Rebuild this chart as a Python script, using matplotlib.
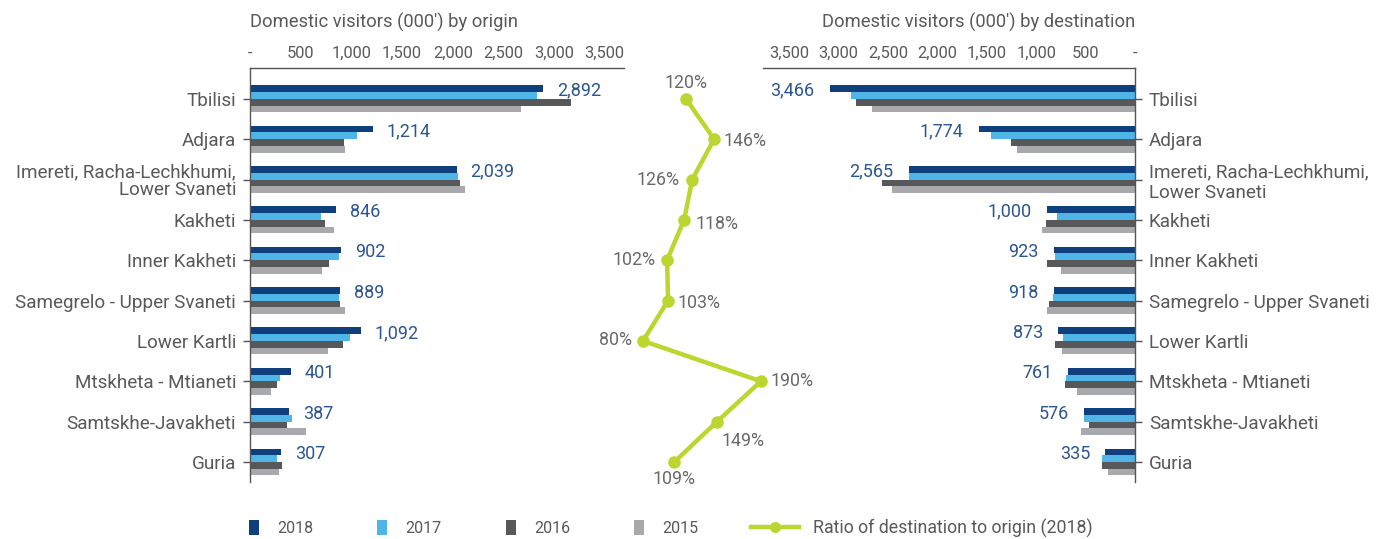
import matplotlib
matplotlib.use("Agg")
import matplotlib.pyplot as plt
from matplotlib.patches import Patch
from matplotlib.lines import Line2D
from matplotlib.ticker import FuncFormatter

plt.rcParams["font.family"] = ["Roboto", "DejaVu Sans"]

# ---- data -----------------------------------------------------------------
regions = [
    "Tbilisi",
    "Adjara",
    "Imereti, Racha-Lechkhumi,\nLower Svaneti",
    "Kakheti",
    "Inner Kakheti",
    "Samegrelo - Upper Svaneti",
    "Lower Kartli",
    "Mtskheta - Mtianeti",
    "Samtskhe-Javakheti",
    "Guria",
]
years = ["2018", "2017", "2016", "2015"]

# domestic visitors by region of origin (000')
origin_2018 = [2892, 1214, 2039, 846, 902, 889, 1092, 401, 387, 307]
origin_2017 = [2833, 1056, 2049, 698, 882, 879, 983, 292, 417, 268]
origin_2016 = [3171, 928, 2069, 738, 783, 889, 913, 262, 367, 317]
origin_2015 = [2678, 938, 2118, 826, 714, 938, 774, 203, 555, 287]

# domestic visitors by region of destination (000')
dest_2018 = [3466, 1774, 2565, 1000, 923, 918, 873, 761, 576, 335]
dest_2017 = [3221, 1638, 2570, 887, 912, 929, 816, 784, 576, 380]
dest_2016 = [3164, 1411, 2871, 1011, 1002, 975, 907, 795, 519, 380]
dest_2015 = [2986, 1343, 2758, 1057, 844, 997, 828, 659, 610, 312]

axis_ticks = [0, 500, 1000, 1500, 2000, 2500, 3000, 3500]

# ---- style ----------------------------------------------------------------
year_colors = ["#0f3f7c", "#4fb4e6", "#58585a", "#a7a9ac"]
ratio_color = "#bdd52f"
value_color = "#2b5692"
text_color = "#595959"
ratio_text_color = "#6a6a6a"
spine_color = "#555555"

W, H = 1389, 539
fig = plt.figure(figsize=(W / 100, H / 100), dpi=100)


def frac_box(x0, y_top, x1, y_bot):
    return [x0 / W, 1 - y_bot / H, (x1 - x0) / W, (y_bot - y_top) / H]


ax_l = fig.add_axes(frac_box(250, 68, 624, 482))
ax_r = fig.add_axes(frac_box(763, 68, 1135, 482))
ax_m = fig.add_axes(frac_box(600, 68, 800, 482))

n = len(regions)
pos = list(range(n))
bar_h = 0.167
offsets = [-1.5 * bar_h, -0.5 * bar_h, 0.5 * bar_h, 1.5 * bar_h]

origin_series = [origin_2018, origin_2017, origin_2016, origin_2015]
dest_series = [dest_2018, dest_2017, dest_2016, dest_2015]


def thousands(v, _=None):
    return "-" if v == 0 else f"{int(round(v)):,}"


for ax, series in ((ax_l, origin_series), (ax_r, dest_series)):
    for vals, off, col in zip(series, offsets, year_colors):
        ax.barh([p + off for p in pos], vals, height=bar_h, color=col,
                edgecolor="none", zorder=2)
    ax.set_ylim(n - 0.504, -0.763)
    ax.set_yticks(pos)
    ax.set_yticklabels(regions, fontsize=13.6, color=text_color)
    for lab in ax.get_yticklabels():
        lab.set_linespacing(0.95)
    ax.tick_params(axis="y", length=5, width=1, color=spine_color, pad=5)
    for s in ax.spines.values():
        s.set_color(spine_color)
        s.set_linewidth(1.0)
    ax.spines["bottom"].set_visible(False)
    ax.set_facecolor("none")

# origin panel
ax_l.set_xlim(0, 3690)
ax_l.spines["right"].set_visible(False)
ax_l.xaxis.tick_top()
ax_l.set_xticks(axis_ticks)
ax_l.xaxis.set_major_formatter(FuncFormatter(thousands))
ax_l.tick_params(axis="x", length=0, pad=5, labelsize=11.8, labelcolor=text_color)
for y, v in zip(pos, origin_2018):
    ax_l.annotate(f"{v:,}", (v, y + offsets[0]), xytext=(10, -1.5),
                  textcoords="offset points", ha="left", va="center",
                  fontsize=13, color=value_color)

# destination panel (mirrored)
ax_r.set_xlim(4222, 0)
ax_r.spines["left"].set_visible(False)
ax_r.yaxis.tick_right()
ax_r.set_xticks([])
dest_scale = 1.122
sec = ax_r.secondary_xaxis("top", functions=(lambda x: x / dest_scale,
                                             lambda x: x * dest_scale))
sec.set_xticks(axis_ticks)
sec.xaxis.set_major_formatter(FuncFormatter(thousands))
sec.tick_params(axis="x", length=0, pad=5, labelsize=11.8, labelcolor=text_color)
sec.spines["top"].set_visible(False)
for y, v in zip(pos, dest_2018):
    ax_r.annotate(f"{v:,}", (v, y + offsets[0]), xytext=(-11, -1.5),
                  textcoords="offset points", ha="right", va="center",
                  fontsize=13, color=value_color)

# ratio of destination to origin, 2018
ratio = [d / o * 100 for d, o in zip(dest_2018, origin_2018)]
ax_m.plot(ratio, pos, color=ratio_color, lw=3.2, marker="o", ms=8,
          solid_capstyle="round", zorder=3)
ax_m.set_xlim((600 - 557.2) / 1.0737, (800 - 557.2) / 1.0737)
ax_m.set_ylim(n - 0.504, -0.763)
ax_m.axis("off")

label_offsets = [
    ((0, 11.5), "center"),
    ((7, -1), "left"),
    ((-9, 0), "right"),
    ((8.5, -3), "left"),
    ((-8, 0), "right"),
    ((7, -2), "left"),
    ((-8, 1), "right"),
    ((7, 0), "left"),
    ((3.5, -14), "left"),
    ((0, -12), "center"),
]
for y, r, (off, ha) in zip(pos, ratio, label_offsets):
    ax_m.annotate(f"{r:.0f}%", (r, y), xytext=off, textcoords="offset points",
                  ha=ha, va="center", fontsize=12.8, color=ratio_text_color)

# titles
fig.text(250 / W, 1 - 22 / H, "Domestic visitors (000') by origin",
         ha="left", va="center", fontsize=13.2, color=text_color)
fig.text(1135 / W, 1 - 22 / H, "Domestic visitors (000') by destination",
         ha="right", va="center", fontsize=13.2, color=text_color)

# legends
bar_handles = [Patch(facecolor=c, edgecolor="none") for c in year_colors]
fig.legend(bar_handles, years, loc="center left",
           bbox_to_anchor=(249 / W, 1 - 528 / H), ncol=4, frameon=False,
           fontsize=11.5, labelcolor=text_color, handlelength=0.62,
           handleheight=1.05, handletextpad=1.15, columnspacing=4.0,
           borderpad=0, borderaxespad=0)
line_handle = Line2D([], [], color=ratio_color, lw=3.2, marker="o", ms=7)
fig.legend([line_handle], ["Ratio of destination to origin (2018)"],
           loc="center left", bbox_to_anchor=(751 / W, 1 - 528 / H),
           frameon=False, fontsize=12.8, labelcolor=text_color,
           handlelength=2.7, handletextpad=0.8, borderpad=0,
           borderaxespad=0, numpoints=1)

fig.savefig("out.png", dpi=100)
